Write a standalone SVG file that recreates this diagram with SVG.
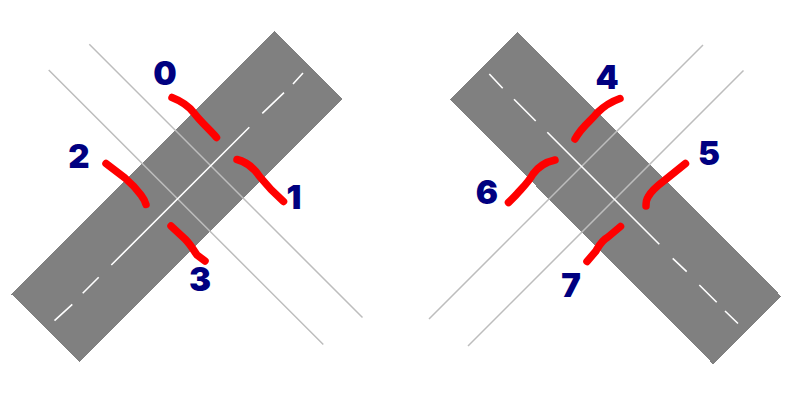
<svg xmlns="http://www.w3.org/2000/svg" width="800" height="400" viewBox="0 0 800 400">
<style>
.road{fill:#808080;shape-rendering:crispEdges}
.guide{stroke:#bdbdbd;stroke-width:1.5;fill:none}
.centre{stroke:#fff;stroke-width:1.6;fill:none}
.mark{stroke:#f00;stroke-width:7.5;fill:none;stroke-linecap:round;stroke-linejoin:round}
text{font-family:Inter,"DejaVu Sans",sans-serif;font-weight:900;font-size:33px;fill:#000080;text-anchor:middle}
</style>
<rect width="800" height="400" fill="#fff"/>
<g id="road-left">
<polygon class="road" points="274.500,31 342.500,99 79.500,362.500 11.500,294.500"/>
<path class="guide" d="M89.300 44.300L362.500 317.500M48.700 70L323.300 344.500"/>
<path class="centre" d="M54.500 320.700L72.300 304.300M82.700 293.300L98.700 277.300M111.300 265L249.300 127.300M262.300 113.300L284 92.700M293 84L303 73"/>
</g>
<g id="road-right">
<polygon class="road" points="518,32 781,296 713,364 450,99.500"/>
<path class="guide" d="M703 45L429 319M743.500 70.500L468 346"/>
<path class="centre" d="M489.300 74L502.700 88.300M514 99.300L535.700 121M547.300 132.300L659.300 244.300M672.700 258.300L686.700 271.700M699.300 285L716.700 302.300M725 311L738 323.500"/>
</g>
<g id="mark-0"><path class="mark" d="M172 97.500C181 101 188 105 194 113C201 122 208 128 216.500 137.500"/><text x="165" y="85">0</text></g>
<g id="mark-1"><path class="mark" d="M237 159.500C247 162 254 168 260 177C268 187 275 194 283.500 201.500"/><text x="294" y="209">1</text></g>
<g id="mark-2"><path class="mark" d="M106 163.500L125 178C132 184 138 191 141 195C144 199 145 201 146 204.500"/><text x="79" y="168">2</text></g>
<g id="mark-3"><path class="mark" d="M171 226L185 239C191 245 194 251 197 255L205 261"/><text x="200" y="291">3</text></g>
<g id="mark-4"><path class="mark" d="M620 98.500C610 102 603 107 597 113C590 122 583 125 575 139"/><text x="607" y="89">4</text></g>
<g id="mark-5"><path class="mark" d="M685.500 163.500L665 180C657 186 651 191 648 197C646 200 646 203 646 206"/><text x="709" y="165">5</text></g>
<g id="mark-6"><path class="mark" d="M555 160C546 162 538 167 533 174C528 183 522 188 516 195L508.500 202.500"/><text x="487" y="204">6</text></g>
<g id="mark-7"><path class="mark" d="M620.500 226.500L608 237C601 241 599 246 596 251L587 261.500"/><text x="571" y="297">7</text></g>
</svg>
